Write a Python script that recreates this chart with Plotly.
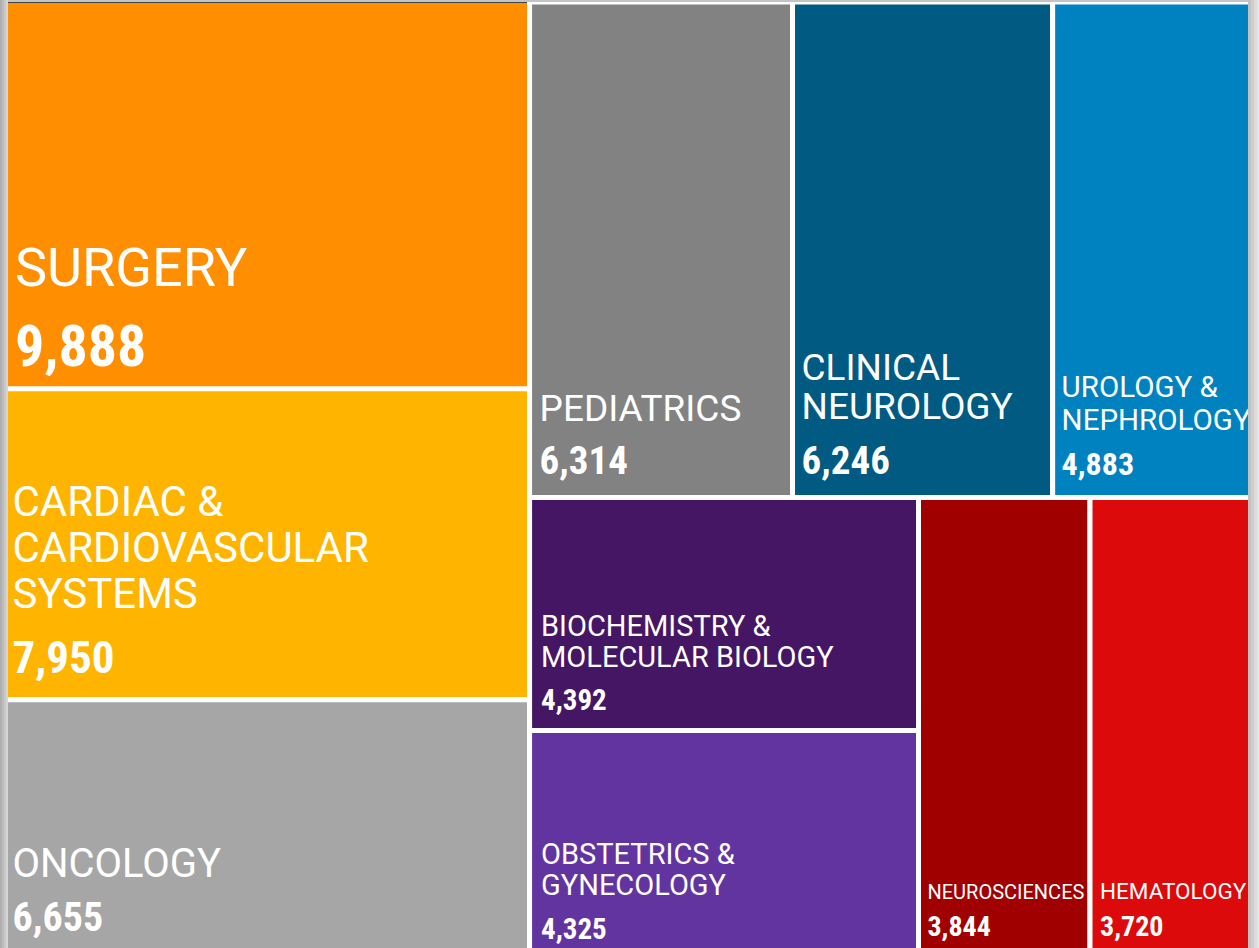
import plotly.graph_objects as go

# ---------------- data ----------------
categories = [
    "SURGERY",
    "CARDIAC & CARDIOVASCULAR SYSTEMS",
    "ONCOLOGY",
    "PEDIATRICS",
    "CLINICAL NEUROLOGY",
    "UROLOGY & NEPHROLOGY",
    "BIOCHEMISTRY & MOLECULAR BIOLOGY",
    "OBSTETRICS & GYNECOLOGY",
    "NEUROSCIENCES",
    "HEMATOLOGY",
]
values = [9888, 7950, 6655, 6314, 6246, 4883, 4392, 4325, 3844, 3720]
label_lines = [
    ["SURGERY"],
    ["CARDIAC &", "CARDIOVASCULAR", "SYSTEMS"],
    ["ONCOLOGY"],
    ["PEDIATRICS"],
    ["CLINICAL", "NEUROLOGY"],
    ["UROLOGY &", "NEPHROLOGY"],
    ["BIOCHEMISTRY &", "MOLECULAR BIOLOGY"],
    ["OBSTETRICS &", "GYNECOLOGY"],
    ["NEUROSCIENCES"],
    ["HEMATOLOGY"],
]

# ---------------- styles ----------------
colors = ["#FF8F00", "#FFB400", "#A6A6A6", "#828282", "#005A82",
          "#0082C0", "#451664", "#6234A0", "#A00000", "#DC0A0A"]
label_size = [54, 42, 40, 37, 37, 29.5, 29, 29, 20, 22.5]     # label font px
value_size = [58, 45, 40, 39, 39, 32, 29, 29, 28, 28]         # number font px
line_gap = [59, 46, 44, 41, 39.5, 33, 31, 31, 28, 28]         # label line spacing px
value_gap = [80, 65, 54, 53, 54, 45, 43, 44, 37, 37]          # last label -> number px
num_bottom = [21.5, 25.5, 28, 23, 23, 22, 20, 20, 23, 23]     # number baseline above cell edge
indent = [40, 30, 30, 28, 24, 24, 34, 34, 24, 28]             # left indent (nbsp size, px)

LABEL_FONT = "Roboto"
VALUE_FONT = "Roboto Condensed, Liberation Sans Narrow, Arial Narrow, Roboto"
DESC = 0.244     # font descent ratio
TPAD = 2.0       # plotly inner text pad

W, H = 1259, 962

label_texts, label_base, value_texts = [], [], []
for lines, v, ls, vs, g1, g2, nb, ind in zip(label_lines, values, label_size, value_size,
                                             line_gap, value_gap, num_bottom, indent):
    pad = f"<span style='font-size:{ind}px'>\u00a0</span>"
    # label block: lines + a spacer line that keeps room for the number below
    spacer = (nb + g2 - g1 - TPAD) / DESC
    lab = "<br>".join(f"{pad}<span style='font-size:{ls}px'>{p}</span>" for p in lines)
    lab += f"<br><span style='font-size:{spacer:.1f}px'>\u00a0</span>"
    label_texts.append(lab)
    label_base.append(round(g1 / 1.3, 2))
    # number block
    tail = (nb - TPAD) / DESC
    val = (f"{pad}<span style='font-size:{vs}px;font-family:{VALUE_FONT};"
           f"font-stretch:condensed;font-weight:bold'>{v:,}</span>"
           f"<span style='font-size:{tail:.1f}px'>\u00a0</span>")
    value_texts.append(val)

common = dict(
    labels=categories,
    parents=[""] * len(categories),
    values=values,
    textinfo="text",
    textposition="bottom left",
    sort=True,
    tiling=dict(packing="squarify", squarifyratio=1.618, pad=0),
    pathbar=dict(visible=False),
    domain=dict(x=[2 / W, 1256 / W], y=[2 / H, 1 - 2 / H]),
)

fig = go.Figure()
# coloured cells with the field names
fig.add_trace(go.Treemap(
    text=label_texts,
    textfont=dict(family=LABEL_FONT, size=label_base, color="white"),
    marker=dict(colors=colors, line=dict(color="white", width=5),
                cornerradius=4, pad=dict(t=0, l=0, r=0, b=0)),
    root_color="white",
    hoverinfo="skip",
    **common,
))
# the record counts, laid on the same cells
fig.add_trace(go.Treemap(
    text=value_texts,
    textfont=dict(family=LABEL_FONT, size=value_size, color="white"),
    marker=dict(colors=["rgba(0,0,0,0)"] * len(categories),
                line=dict(color="rgba(0,0,0,0)", width=0),
                pad=dict(t=0, l=0, r=0, b=0)),
    root_color="rgba(0,0,0,0)",
    hoverinfo="label+value",
    **common,
))

# page-edge shadow strips
shapes = [dict(type="rect", xref="paper", yref="paper",
               x0=0, x1=1, y0=1 - 2 / H, y1=1,
               fillcolor="#c4c4c4", line=dict(width=0), layer="above")]
left_band = [(0, 2, "#b0b0b0"), (2, 4, "#bcbcbc"), (4, 6, "#c9c9c9"), (6, 8, "#d6d6d6")]
for x0, x1, c in left_band:
    shapes.append(dict(type="rect", xref="paper", yref="paper",
                       x0=x0 / W, x1=x1 / W, y0=0, y1=1,
                       fillcolor=c, line=dict(width=0), layer="above"))
right_band = [(1248, 1251, "#c2c2c2"), (1251, 1254, "#cfcfcf"),
              (1254, 1257, "#dcdcdc"), (1257, 1259, "#e6e6e6")]
for x0, x1, c in right_band:
    shapes.append(dict(type="rect", xref="paper", yref="paper",
                       x0=x0 / W, x1=x1 / W, y0=0, y1=1,
                       fillcolor=c, line=dict(width=0), layer="above"))

fig.update_layout(
    width=W,
    height=H,
    margin=dict(l=0, r=0, t=0, b=0),
    paper_bgcolor="white",
    shapes=shapes,
    showlegend=False,
)

fig.write_html(
    "out.html",
    config={"displayModeBar": False},
    post_script="document.body.style.margin='0';document.body.style.overflow='hidden';",
)
